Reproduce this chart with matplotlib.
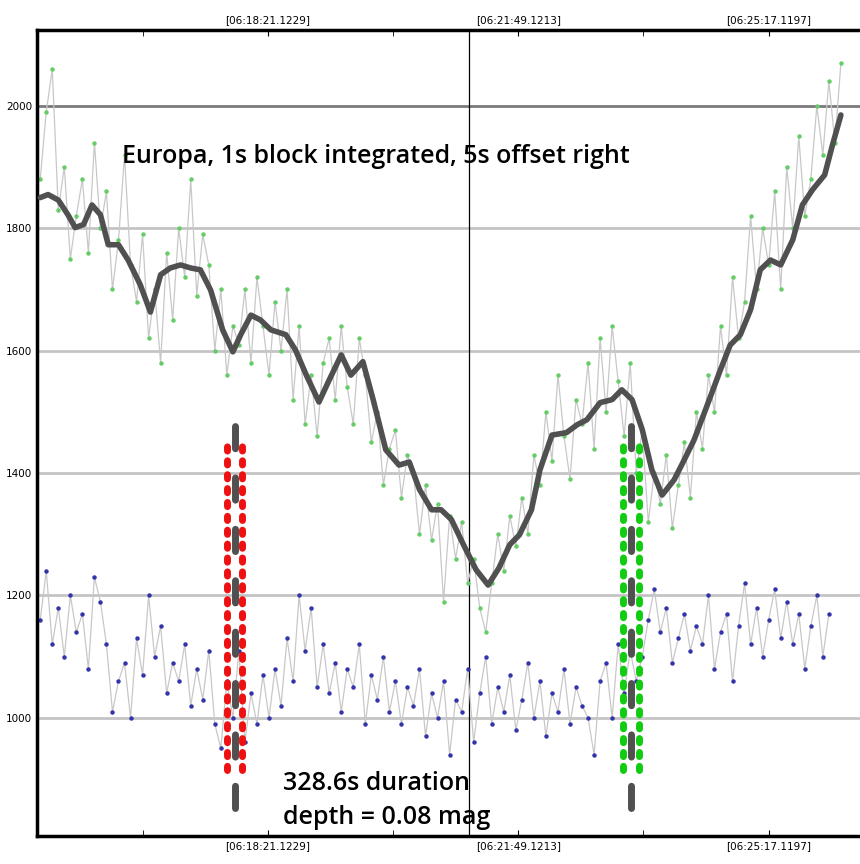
import numpy as np
import matplotlib
matplotlib.use("Agg")
import matplotlib.pyplot as plt

# seconds relative to 06:18:21.1229
tick_pos = [0, 208, 416]
tick_labels = ["[06:18:21.1229]", "[06:21:49.1213]", "[06:25:17.1197]"]

green_t0, green_step = -189, 5
green_vals = [
    1880, 1990, 2060, 1830, 1900, 1750, 1820, 1880, 1760, 1940,
    1800, 1860, 1700, 1780, 1920, 1740, 1680, 1790, 1620, 1700,
    1580, 1760, 1650, 1800, 1720, 1880, 1690, 1790, 1740, 1600,
    1700, 1560, 1640, 1610, 1700, 1580, 1720, 1640, 1560, 1680,
    1600, 1700, 1520, 1640, 1480, 1560, 1460, 1580, 1620, 1520,
    1640, 1540, 1480, 1620, 1560, 1450, 1500, 1380, 1440, 1470,
    1360, 1430, 1400, 1300, 1380, 1290, 1350, 1190, 1330, 1260,
    1320, 1220, 1260, 1180, 1140, 1220, 1300, 1240, 1330, 1280,
    1360, 1300, 1430, 1380, 1500, 1420, 1560, 1460, 1390, 1520,
    1480, 1580, 1440, 1620, 1500, 1640, 1550, 1460, 1580, 1400,
    1470, 1320, 1400, 1350, 1430, 1310, 1380, 1450, 1360, 1500,
    1440, 1560, 1500, 1640, 1560, 1720, 1620, 1680, 1820, 1700,
    1800, 1740, 1860, 1700, 1900, 1800, 1950, 1820, 1880, 2000,
    1920, 2040, 1940, 2070,
]
blue_vals = [
    1160, 1240, 1120, 1180, 1100, 1200, 1140, 1170, 1080, 1230,
    1190, 1120, 1010, 1060, 1090, 1000, 1130, 1070, 1200, 1100,
    1150, 1040, 1090, 1060, 1120, 1020, 1080, 1030, 1110, 990,
    950, 1060, 1000, 1110, 960, 1040, 990, 1070, 1000, 1080,
    1020, 1130, 1060, 1200, 1110, 1180, 1050, 1120, 1040, 1090,
    1010, 1080, 1050, 1120, 990, 1070, 1030, 1100, 1010, 1060,
    990, 1050, 1020, 1080, 970, 1040, 1000, 1060, 940, 1030,
    1010, 1080, 960, 1040, 1100, 990, 1050, 1010, 1070, 980,
    1030, 1090, 1000, 1060, 970, 1040, 1010, 1080, 990, 1050,
    1020, 1000, 940, 1060, 1090, 1000, 1120, 1040, 1110, 1060,
    1100, 1160, 1210, 1140, 1180, 1090, 1130, 1170, 1110, 1150,
    1120, 1200, 1080, 1140, 1170, 1060, 1150, 1220, 1120, 1180,
    1100, 1160, 1210, 1130, 1190, 1120, 1170, 1080, 1150, 1200,
    1100, 1170,
]

smooth_t = [-189, -182.5, -174, -166, -160, -153, -146, -139, -132.5, -124,
            -116, -106, -97.5, -89, -81, -72.5, -64, -56, -47.5, -37.5,
            -29, -22.5, -14, -6, 2.5, 15, 23, 32, 42.5, 51,
            61, 69, 79, 87.5, 98, 109, 117.5, 126, 136, 144,
            152.5, 162.5, 173, 183, 192, 201, 209, 219, 226, 236,
            248, 257, 265, 276, 286, 294, 302.5, 311, 319, 327.5,
            337.5, 346, 354, 365, 376, 384, 392.5, 401, 409, 417.5,
            426, 436, 444, 452.5, 462.5, 469, 476]
smooth_v = [1850, 1855, 1846, 1822, 1801, 1806, 1838, 1822, 1773, 1773,
            1748, 1708, 1663, 1724, 1735, 1740, 1735, 1732, 1699, 1634,
            1598, 1626, 1658, 1650, 1634, 1626, 1601, 1560, 1516, 1552,
            1593, 1560, 1582, 1520, 1438, 1413, 1418, 1373, 1340, 1340,
            1324, 1283, 1242, 1217, 1245, 1283, 1299, 1340, 1405, 1462,
            1466, 1479, 1487, 1515, 1520, 1536, 1520, 1471, 1405, 1364,
            1389, 1422, 1454, 1511, 1569, 1609, 1626, 1667, 1732, 1748,
            1740, 1781, 1838, 1863, 1887, 1936, 1985]

green_t = green_t0 + green_step * np.arange(len(green_vals))
blue_t = green_t0 + green_step * np.arange(len(blue_vals))

fig = plt.figure(figsize=(8.6, 8.64), dpi=100)
ax = fig.add_axes([0.043, 0.0324, 0.96, 0.933])

ax.set_xlim(-191.7, 494)
ax.set_ylim(807, 2124)

for yv in range(1000, 2001, 200):
    ax.axhline(yv, color="#7a7a7a" if yv == 2000 else "#c4c4c4", lw=2, zorder=0)
ax.axvline(166.7, color="black", lw=0.9, zorder=1)

ax.plot(green_t, green_vals, color="#c8c8c8", lw=0.9, marker="o", ms=2.2,
        mfc="#66cc66", mec="#66cc66", zorder=2)
ax.plot(blue_t, blue_vals, color="#c8c8c8", lw=0.9, marker="o", ms=2.2,
        mfc="#3333aa", mec="#3333aa", zorder=2)
ax.plot(smooth_t, smooth_v, color="#505050", lw=4, solid_capstyle="round",
        solid_joinstyle="round", zorder=3)

# transit markers
for tx, col in [(-34, "#ee1111"), (-21.7, "#ee1111"), (295, "#11cc11"), (308, "#11cc11")]:
    ax.plot([tx, tx], [915, 1446], color=col, lw=5, dashes=(0.6, 1.4),
            dash_capstyle="round", zorder=4)
ax.plot([-27.5, -27.5], [853, 1523], color="#505050", lw=5, dashes=(3.2, 4.2),
        dash_capstyle="round", zorder=5)
ax.plot([301.7, 301.7], [853, 1479], color="#505050", lw=5, dashes=(3.2, 4.2),
        dash_capstyle="round", zorder=5)

ax.text(-121, 1917, "Europa, 1s block integrated, 5s offset right", fontsize=18,
        fontweight="semibold", family="Open Sans", va="center")
ax.text(13, 865, "328.6s duration\ndepth = 0.08 mag", fontsize=18,
        fontweight="semibold", family="Open Sans", va="center", linespacing=1.45)

ax.set_xticks(tick_pos)
ax.set_xticklabels(tick_labels)
ax.set_xticks([-104, 104, 312], minor=True)
ax.set_yticks(range(1000, 2001, 200))
ax.tick_params(axis="x", top=True, labeltop=True, bottom=True, labelbottom=True,
               which="both", direction="in", labelsize=7.5, length=4)
ax.tick_params(axis="y", direction="out", labelsize=7.5, length=0)
for s in ["left", "top", "bottom"]:
    ax.spines[s].set_linewidth(2.5)
ax.spines["right"].set_visible(False)

fig.savefig("out.png", dpi=100)
